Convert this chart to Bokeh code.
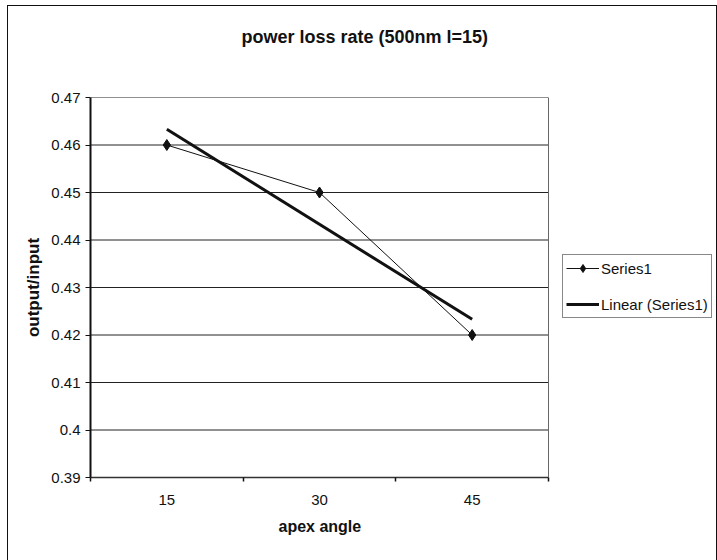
from bokeh.plotting import figure
from bokeh.models import (Range1d, FixedTicker, Legend, LegendItem, Title, Span)
from bokeh.embed import file_html
from bokeh.resources import INLINE

# ---- data ----
categories = ["15", "30", "45"]
series1 = [0.46, 0.45, 0.42]
trend_values = [0.4633, 0.4233]          # Linear (Series1) at first and last category
y_ticks = [0.39, 0.40, 0.41, 0.42, 0.43, 0.44, 0.45, 0.46, 0.47]
y_tick_labels = ["0.39", "0.4", "0.41", "0.42", "0.43", "0.44", "0.45", "0.46", "0.47"]
title_text = "power loss rate (500nm l=15)"
x_title = "apex angle"
y_title = "output/input"

FONT = "Liberation Sans"

n = len(categories)
xs = [i + 0.5 for i in range(n)]
trend_x = [xs[0], xs[-1]]

# layout: the frame runs to the right border so the legend can sit inside it;
# the plot area proper covers the first 458 px (categories 0..n)
PLOT_W, FRAME_W = 458, 626
x_end = n * FRAME_W / PLOT_W

p = figure(width=708, height=554, output_backend="svg", toolbar_location=None,
           x_range=Range1d(0, x_end), y_range=Range1d(y_ticks[0], y_ticks[-1]),
           min_border_left=82, min_border_right=0, min_border_top=91, min_border_bottom=83)
p.margin = (6, 0, 0, 8)
p.styles = {"outline": "1px solid #111"}
p.background_fill_color = "white"
p.border_fill_color = "white"
p.outline_line_color = None

# title (spacer panel next to the frame, then the real title above it)
p.title.visible = False
spacer = Title(text=" ", standoff=31, text_font=FONT, text_font_size="1px")
p.add_layout(spacer, "above")
t = Title(text=title_text, align="left", offset=151, standoff=34,
          text_font=FONT, text_font_size="18px", text_font_style="bold", text_color="#111")
p.add_layout(t, "above")

# axes
xa = p.xaxis[0]
xa.bounds = (0, n)
xa.ticker = FixedTicker(ticks=xs, minor_ticks=list(range(n + 1)))
xa.major_label_overrides = {x: c for x, c in zip(xs, categories)}
xa.major_tick_line_color = None
xa.major_tick_out = 4
xa.major_tick_in = 0
xa.minor_tick_line_color = "#111"
xa.minor_tick_out = 4
xa.minor_tick_in = 0
xa.minor_tick_line_width = 1.5
xa.axis_line_color = "#333"
xa.axis_line_width = 1.5
xa.major_label_standoff = 13
xa.major_label_text_font = FONT
xa.major_label_text_font_size = "15px"
xa.major_label_text_color = "#111"

# x axis title centred under the plot area
xt = Title(text=x_title, align="left", offset=188, standoff=20, vertical_align="top",
           text_font=FONT, text_font_size="16px", text_font_style="bold", text_color="#111")
p.add_layout(xt, "below")

ya = p.yaxis[0]
ya.ticker = FixedTicker(ticks=y_ticks, minor_ticks=[])
ya.major_label_overrides = {v: s for v, s in zip(y_ticks, y_tick_labels)}
ya.major_tick_out = 5
ya.major_tick_in = 0
ya.major_tick_line_color = "#111"
ya.axis_line_color = "#111"
ya.axis_line_width = 2
ya.major_label_standoff = 5
ya.major_label_text_font = FONT
ya.major_label_text_font_size = "15px"
ya.major_label_text_color = "#111"
ya.axis_label = y_title
ya.axis_label_text_font = FONT
ya.axis_label_text_font_size = "17px"
ya.axis_label_text_font_style = "bold"
ya.axis_label_text_color = "#111"
ya.axis_label_standoff = 5

p.xgrid.visible = False
p.ygrid.visible = False

# horizontal gridlines across the plot area only
p.segment(x0=[0] * len(y_ticks), y0=y_ticks, x1=[n] * len(y_ticks), y1=y_ticks,
          line_color="#222", line_width=1)

# right edge of the plot area
p.add_layout(Span(location=n, dimension="height", line_color="#666666", line_width=1))

# series
r_line = p.line(xs, series1, line_color="#111", line_width=1)
r_pts = p.scatter(xs, series1, marker="diamond", size=11,
                  fill_color="#111", line_color="#111")
r_trend = p.line(trend_x, trend_values, line_color="#111", line_width=3)

legend = Legend(items=[LegendItem(label="Series1", renderers=[r_line, r_pts]),
                       LegendItem(label="Linear (Series1)", renderers=[r_trend])],
                location=(472, 159))
legend.border_line_color = "#111"
legend.border_line_width = 1
legend.background_fill_color = "white"
legend.background_fill_alpha = 1
legend.glyph_width = 33
legend.glyph_height = 20
legend.label_height = 20
legend.label_standoff = 2
legend.padding = 3
legend.spacing = 16
legend.margin = 0
legend.label_text_font = FONT
legend.label_text_font_size = "15px"
legend.label_text_color = "#111"
p.add_layout(legend, "center")

open("out.html", "w").write(file_html(p, INLINE))
